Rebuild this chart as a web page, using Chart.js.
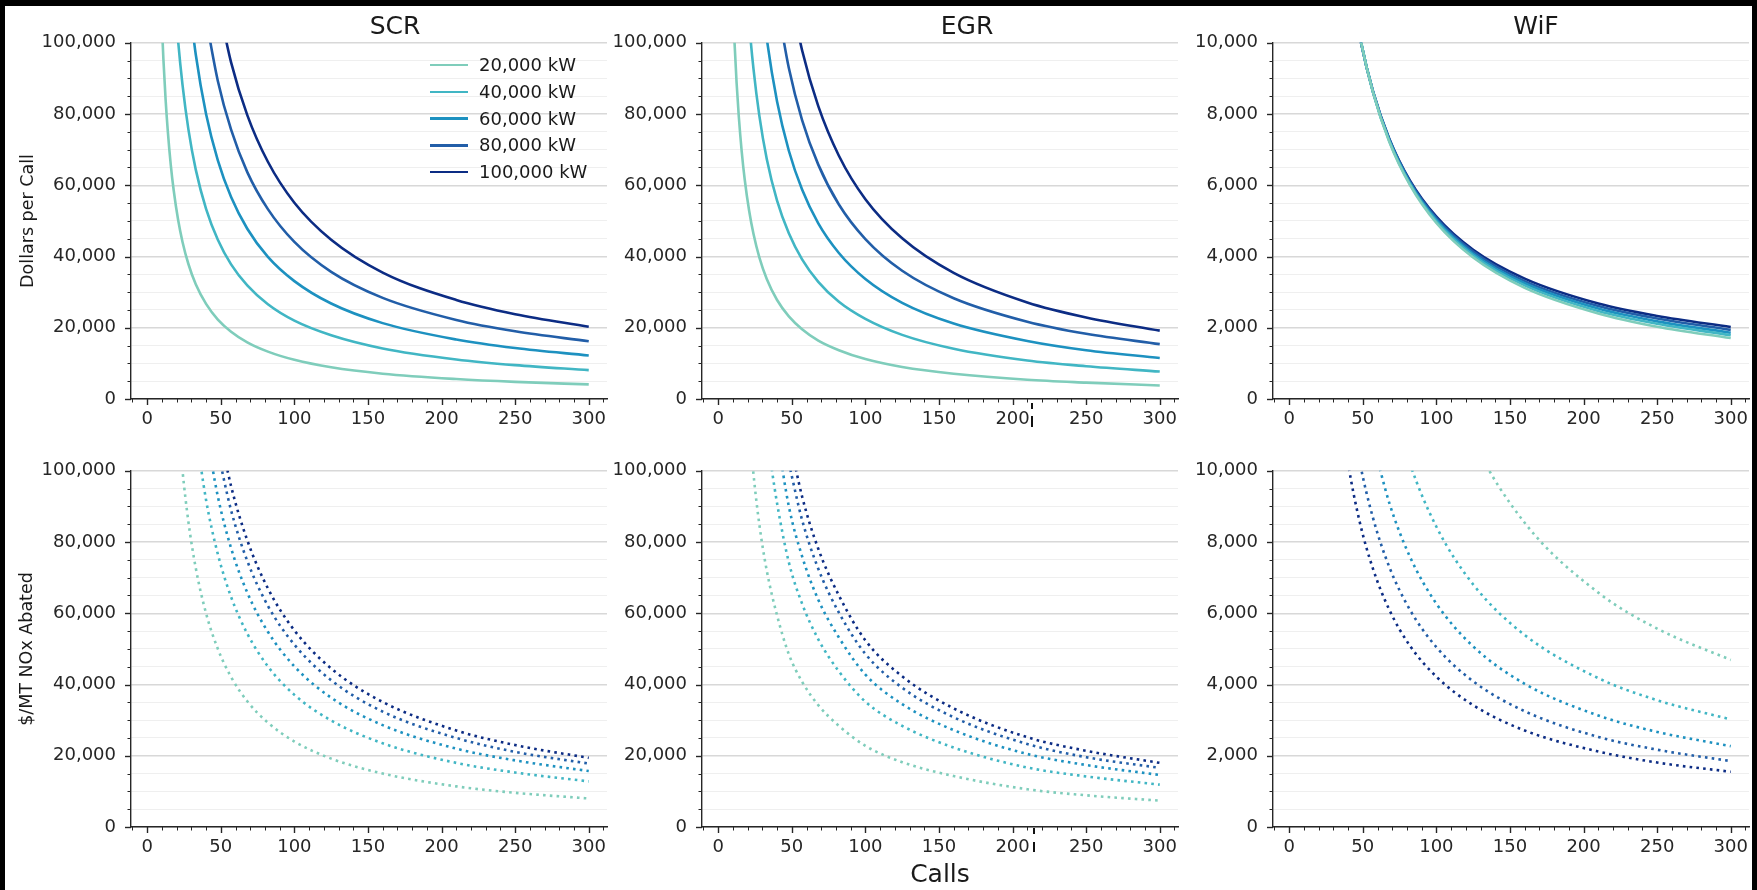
<!DOCTYPE html>
<html><head><meta charset="utf-8">
<script src="https://cdn.jsdelivr.net/npm/chart.js@4.4.1/dist/chart.umd.min.js"></script>
<style>
html,body{margin:0;padding:0;background:#000;width:1757px;height:890px;overflow:hidden;position:relative;}
#page{position:absolute;left:5px;top:6px;width:1747px;height:884px;background:#fff;}
canvas{position:absolute;}
.txt{position:absolute;font-family:'DejaVu Sans',sans-serif;color:#1a1a1a;white-space:nowrap;}
.mark{position:absolute;background:#111;}
</style></head><body>
<div id="page"></div>
<script>
// ---------------- data ----------------
const X_GRID = [10, 11, 12.5, 14, 16, 18, 21, 24, 28, 33, 40, 48, 57, 68, 82, 100, 125, 160, 210, 250, 300];
const SERIES_LABELS = ['20,000 kW', '40,000 kW', '60,000 kW', '80,000 kW', '100,000 kW'];
const PANEL_TITLES = ['SCR', 'EGR', 'WiF'];
const Y_LABELS = ['Dollars per Call', '$/MT NOx Abated'];
const X_LABEL = 'Calls';
const X_TICK_LABELS = [0, 50, 100, 150, 200, 250, 300];
const Y_MAX = [100000, 100000, 10000];

const N = null;
// Dollars per call (top row)
const SCR_COST = [
  [105000, 95500, 84100, 75200, 65800, 58600, 50300, 44100, 37900, 32200, 26700, 22300, 18900, 15900, 13300, 11000, 8900, 7100, 5600, 4800, 4100],
  [N, N, N, N, N, 117200, 100600, 88200, 75700, 64400, 53400, 44700, 37800, 31900, 26600, 22000, 17900, 14200, 11100, 9500, 8100],
  [N, N, N, N, N, N, N, N, 113600, 96700, 80000, 67000, 56700, 47800, 39900, 33100, 26800, 21300, 16700, 14300, 12200],
  [N, N, N, N, N, N, N, N, N, N, 106700, 89300, 75600, 63700, 53300, 44100, 35700, 28400, 22200, 19000, 16200],
  [N, N, N, N, N, N, N, N, N, N, N, 111700, 94500, 79700, 66600, 55100, 44700, 35500, 27800, 23800, 20300]
];
const EGR_COST = [
  [110900, 100900, 88800, 79300, 69400, 61700, 52900, 46300, 39700, 33700, 27800, 23200, 19600, 16400, 13700, 11200, 9000, 7100, 5400, 4600, 3800],
  [N, N, N, N, N, 123400, 105800, 92600, 79400, 67400, 55700, 46500, 39200, 32900, 27300, 22500, 18000, 14100, 10800, 9200, 7700],
  [N, N, N, N, N, N, N, N, 119200, 101200, 83500, 69700, 58800, 49300, 41000, 33700, 27000, 21200, 16300, 13700, 11500],
  [N, N, N, N, N, N, N, N, N, N, 111400, 92900, 78300, 65800, 54600, 44900, 36000, 28300, 21700, 18300, 15400],
  [N, N, N, N, N, N, N, N, N, N, N, 116100, 97900, 82200, 68300, 56100, 45100, 35400, 27100, 22900, 19200]
];
const WIF_COST = [
  [N, N, N, N, N, N, N, N, N, N, 12200, 10190, 8600, 7220, 6010, 4940, 3970, 3120, 2400, 2030, 1710],
  [N, N, N, N, N, N, N, N, N, N, 12190, 10190, 8610, 7240, 6040, 4990, 4030, 3190, 2470, 2110, 1790],
  [N, N, N, N, N, N, N, N, N, N, 12160, 10180, 8610, 7270, 6070, 5030, 4080, 3250, 2540, 2180, 1860],
  [N, N, N, N, N, N, N, N, N, N, 12130, 10170, 8620, 7290, 6110, 5080, 4140, 3310, 2610, 2260, 1940],
  [N, N, N, N, N, N, N, N, N, N, 12100, 10160, 8630, 7310, 6140, 5120, 4190, 3380, 2680, 2330, 2020]
];
// $/MT NOx abated (bottom row)
const SCR_ABATE = [
  [N, N, N, N, N, N, 114300, 100000, 85700, 72700, 60000, 50000, 42100, 35300, 29300, 24000, 19200, 15000, 11400, 9600, 8000],
  [N, N, N, N, N, N, N, N, N, 111100, 91800, 76600, 64600, 54300, 45100, 37100, 29900, 23500, 18000, 15300, 12800],
  [N, N, N, N, N, N, N, N, N, N, 111100, 92800, 78300, 65800, 54800, 45100, 36300, 28600, 22000, 18700, 15700],
  [N, N, N, N, N, N, N, N, N, N, N, 105400, 88900, 74700, 62100, 51200, 41200, 32400, 25000, 21100, 17800],
  [N, N, N, N, N, N, N, N, N, N, N, 113300, 95700, 80500, 67000, 55200, 44500, 35100, 27100, 23000, 19400]
];
const EGR_ABATE = [
  [N, N, N, N, N, N, 113200, 99000, 84800, 72000, 59400, 48500, 40800, 34200, 28400, 22800, 18200, 14300, 10600, 8900, 7400],
  [N, N, N, N, N, N, N, N, N, 110000, 90900, 74300, 62700, 52700, 43700, 35200, 28400, 22300, 16700, 14200, 11900],
  [N, N, N, N, N, N, N, N, N, N, 110000, 90000, 76000, 63800, 53200, 42800, 34500, 27200, 20500, 17400, 14600],
  [N, N, N, N, N, N, N, N, N, N, N, 102200, 86200, 72500, 60200, 48600, 39100, 30800, 23300, 19600, 16600],
  [N, N, N, N, N, N, N, N, N, N, N, 109900, 92800, 78100, 65000, 52400, 42300, 33300, 25200, 21400, 18000]
];
const WIF_ABATE = [
  [N, N, N, N, N, N, N, N, N, N, N, N, N, N, N, 13500, 10860, 8540, 6580, 5570, 4690],
  [N, N, N, N, N, N, N, N, N, N, N, N, N, 12250, 10210, 8430, 6810, 5390, 4180, 3560, 3020],
  [N, N, N, N, N, N, N, N, N, N, N, N, 10800, 9100, 7590, 6270, 5070, 4020, 3130, 2670, 2270],
  [N, N, N, N, N, N, N, N, N, N, 12240, 10240, 8670, 7300, 6100, 5050, 4090, 3250, 2530, 2170, 1850],
  [N, N, N, N, N, N, N, N, N, 12340, 10220, 8550, 7240, 6100, 5090, 4220, 3420, 2710, 2120, 1810, 1550]
];
const COLORS = ['#7fcdbb', '#41b6c4', '#1d91c0', '#225ea8', '#0c2c84'];

// ---------------- layout ----------------
const PLOT_LEFT = [131, 702, 1273];
const PLOT_TOP = [43, 471];
const PLOT_W = 476, PLOT_H = 356;
const AX_W = 100, PAD_T = 15, PAD_R = 15, AX_H = 40;
const AXIS_COLOR = '#262626';
const FONT = "'DejaVu Sans', sans-serif";
const TICK_FONT = 18;

Chart.defaults.font.family = FONT;

const tickMarks = {
  id: 'tickMarks',
  afterDraw(chart) {
    const { ctx, chartArea: a, scales: { x, y } } = chart;
    const yMajor = chart.options.scales.y.max / 5;
    ctx.save();
    ctx.strokeStyle = AXIS_COLOR;
    x.ticks.forEach(t => {
      const major = X_TICK_LABELS.includes(t.value);
      const px = Math.round(x.getPixelForValue(t.value)) + 0.5;
      ctx.lineWidth = major ? 1.4 : 1;
      ctx.beginPath(); ctx.moveTo(px, a.bottom); ctx.lineTo(px, a.bottom + (major ? 6 : 3.5)); ctx.stroke();
    });
    y.ticks.forEach(t => {
      const major = Math.abs(t.value % yMajor) < 1e-6;
      const py = Math.round(y.getPixelForValue(t.value)) + 0.5;
      ctx.lineWidth = major ? 1.4 : 1;
      ctx.beginPath(); ctx.moveTo(a.left, py); ctx.lineTo(a.left - (major ? 6 : 3.5), py); ctx.stroke();
    });
    ctx.restore();
  }
};

function chartConfig(r, c, series) {
  const yMax = Y_MAX[c];
  const yMajor = yMax / 5;
  const dotted = r === 1;
  return {
    type: 'line',
    data: {
      datasets: series.map((ys, i) => ({
        label: SERIES_LABELS[i],
        data: X_GRID.map((x, j) => ({ x: x, y: ys[j] })),
        borderColor: COLORS[i],
        borderWidth: 2.6,
        borderDash: dotted ? [2.6, 4.2] : [],
        borderCapStyle: 'butt',
        pointRadius: 0,
        cubicInterpolationMode: 'monotone',
        fill: false
      }))
    },
    options: {
      responsive: false, maintainAspectRatio: false, animation: false, events: [],
      devicePixelRatio: 1,
      layout: { padding: { left: 0, top: PAD_T, right: PAD_R, bottom: 0 } },
      plugins: { legend: { display: false }, tooltip: { enabled: false }, title: { display: false } },
      scales: {
        x: {
          type: 'linear', min: -11, max: 312.4,
          afterFit: s => { s.height = AX_H; },
          grid: { color: 'rgba(0,0,0,0)', drawTicks: false },
          border: { display: true, color: AXIS_COLOR, width: 1.4 },
          ticks: {
            stepSize: 10, includeBounds: false, autoSkip: false, maxRotation: 0,
            padding: 10, color: AXIS_COLOR, font: { size: TICK_FONT, family: FONT },
            callback: v => X_TICK_LABELS.includes(v) ? String(v) : ''
          }
        },
        y: {
          type: 'linear', min: 0, max: yMax,
          afterFit: s => { s.width = AX_W; },
          grid: {
            drawTicks: false,
            color: ctx => (ctx.tick && Math.abs(ctx.tick.value % yMajor) < 1e-6) ? '#d8d8d8' : '#efefef',
            lineWidth: ctx => (ctx.tick && Math.abs(ctx.tick.value % yMajor) < 1e-6) ? 1.4 : 1.1
          },
          border: { display: true, color: AXIS_COLOR, width: 1.4 },
          ticks: {
            stepSize: yMax / 20, autoSkip: false,
            padding: 15, color: AXIS_COLOR, font: { size: TICK_FONT, family: FONT },
            callback: v => Math.abs(v % yMajor) < 1e-6 ? v.toLocaleString('en-US') : ''
          }
        }
      }
    },
    plugins: [tickMarks]
  };
}

function makePanel(r, c, series) {
  let w = AX_W + PLOT_W + PAD_R, h = PAD_T + PLOT_H + AX_H;
  const cv = document.createElement('canvas');
  document.body.appendChild(cv);
  function build() {
    cv.width = w; cv.height = h;
    cv.style.width = w + 'px'; cv.style.height = h + 'px';
    return new Chart(cv, chartConfig(r, c, series));
  }
  let chart = build();
  let ca = chart.chartArea;
  const dw = Math.round(PLOT_W - (ca.right - ca.left));
  const dh = Math.round(PLOT_H - (ca.bottom - ca.top));
  if (dw !== 0 || dh !== 0) {
    chart.destroy();
    w += dw; h += dh;
    chart = build();
    ca = chart.chartArea;
  }
  cv.style.left = (PLOT_LEFT[c] - ca.left) + 'px';
  cv.style.top = (PLOT_TOP[r] - ca.top) + 'px';
}

const PANELS = [[SCR_COST, EGR_COST, WIF_COST], [SCR_ABATE, EGR_ABATE, WIF_ABATE]];
PANELS.forEach((row, r) => row.forEach((s, c) => makePanel(r, c, s)));

// ---------------- text ----------------
function addText(txt, left, top, size, extra) {
  const d = document.createElement('div');
  d.className = 'txt';
  d.textContent = txt;
  d.style.left = left + 'px'; d.style.top = top + 'px';
  d.style.fontSize = size + 'px'; d.style.lineHeight = size + 'px';
  if (extra) Object.assign(d.style, extra);
  document.body.appendChild(d);
  return d;
}
const TITLE_CX = [395, 967, 1536];
PANEL_TITLES.forEach((t, c) => addText(t, TITLE_CX[c], 25, 25, { transform: 'translate(-50%,-50%)' }));
addText(X_LABEL, 940, 873, 25, { transform: 'translate(-50%,-50%)' });
addText(Y_LABELS[0], 28, 221, 17.5, { transform: 'translate(-50%,-50%) rotate(-90deg)' });
addText(Y_LABELS[1], 27, 649, 17.5, { transform: 'translate(-50%,-50%) rotate(-90deg)' });

// legend (SCR top panel)
SERIES_LABELS.forEach((lab, i) => {
  const cy = 65.2 + 26.75 * i;
  const ln = document.createElement('div');
  ln.style.position = 'absolute';
  ln.style.left = '430px'; ln.style.width = '38px';
  ln.style.top = (cy - 1.3) + 'px'; ln.style.height = '2.6px';
  ln.style.background = COLORS[i];
  document.body.appendChild(ln);
  addText(lab, 479, cy, 18, { transform: 'translateY(-50%)', color: '#1a1a1a' });
});

// small stray marks near the EGR x axes
[[1031, 403, 6], [1031, 416, 11], [1033, 828, 6], [1033, 842, 10]].forEach(([l, t, hh]) => {
  const m = document.createElement('div');
  m.className = 'mark';
  m.style.left = l + 'px'; m.style.top = t + 'px'; m.style.width = '2px'; m.style.height = hh + 'px';
  document.body.appendChild(m);
});
</script>
</body></html>
